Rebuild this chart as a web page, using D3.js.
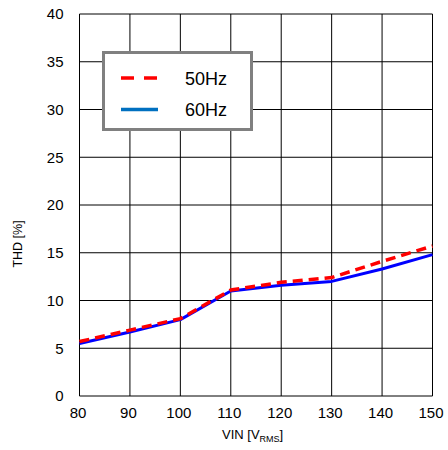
<!DOCTYPE html>
<html><head><meta charset="utf-8">
<script src="https://cdn.jsdelivr.net/npm/d3@7"></script>
<style>body{margin:0;background:#fff}svg{display:block;font-family:"Liberation Sans",Arial,sans-serif}</style>
</head><body><svg id="c" width="448" height="450"></svg>
<script>
const vin = [80, 90, 100, 110, 120, 130, 140, 150];
const thd50 = [5.7, 6.9, 8.1, 11.1, 11.9, 12.4, 14.1, 15.7];
const thd60 = [5.5, 6.7, 8.0, 11.0, 11.6, 12.0, 13.3, 14.8];
const xTicks = [80, 90, 100, 110, 120, 130, 140, 150];
const yTicks = [0, 5, 10, 15, 20, 25, 30, 35, 40];
const seriesNames = ["50Hz", "60Hz"];

const svg = d3.select("#c");
const x = d3.scaleLinear().domain([80, 150]).range([79.5, 432.5]);
const y = d3.scaleLinear().domain([0, 40]).range([396, 14]);

// grid
svg.append("g").selectAll("line").data(xTicks).join("line")
  .attr("x1", d => x(d)).attr("x2", d => x(d)).attr("y1", y(0)).attr("y2", y(40))
  .attr("stroke", "#000").attr("stroke-width", 1);
svg.append("g").selectAll("line").data(yTicks).join("line")
  .attr("x1", x(80)).attr("x2", x(150)).attr("y1", d => y(d)).attr("y2", d => y(d))
  .attr("stroke", "#000").attr("stroke-width", 1);

// axes with D3
const xa = svg.append("g").attr("transform", `translate(0,${y(0)})`)
  .call(d3.axisBottom(x).tickValues(xTicks).tickSize(0).tickPadding(11));
xa.select(".domain").remove();
xa.selectAll("text").attr("font-size", 15).attr("fill", "#000").attr("dx", -2)
  .attr("font-family", "Liberation Sans, Arial, sans-serif");
const ya = svg.append("g").attr("transform", `translate(${x(80)},0)`)
  .call(d3.axisLeft(y).tickValues(yTicks).tickSize(0).tickPadding(16));
ya.select(".domain").remove();
ya.selectAll("text").attr("font-size", 15).attr("fill", "#000")
  .attr("font-family", "Liberation Sans, Arial, sans-serif");

// lines
const line = d3.line().x((d, i) => x(vin[i])).y(d => y(d));
svg.append("path").datum(thd60).attr("d", line).attr("fill", "none")
  .attr("stroke", "#0000ff").attr("stroke-width", 3).attr("stroke-linejoin", "round");
svg.append("path").datum(thd50).attr("d", line).attr("fill", "none")
  .attr("stroke", "#ff0000").attr("stroke-width", 3.5).attr("stroke-dasharray", "10,6");

// axis titles
const xt = svg.append("text").attr("x", 222).attr("y", 439).attr("font-size", 13).attr("fill", "#000");
xt.append("tspan").text("VIN [V");
xt.append("tspan").attr("font-size", 9).attr("dy", 3).text("RMS");
xt.append("tspan").attr("dy", -3).text("]");
svg.append("text").attr("transform", "translate(22,244) rotate(-90)")
  .attr("text-anchor", "middle").attr("font-size", 12.5).attr("fill", "#000").text("THD [%]");

// legend
const lg = svg.append("g");
lg.append("rect").attr("x", 103.5).attr("y", 52.5).attr("width", 148).attr("height", 77)
  .attr("fill", "#fff").attr("stroke", "#808080").attr("stroke-width", 3);
const lgColors = ["#ff0000", "#0070c0"];
const lgDash = ["13,10", null];
seriesNames.forEach((n, i) => {
  const yy = 78 + i * 31.5;
  lg.append("line").attr("x1", 121).attr("x2", 158).attr("y1", yy).attr("y2", yy)
    .attr("stroke", lgColors[i]).attr("stroke-width", 3.5)
    .attr("stroke-dasharray", lgDash[i]);
  lg.append("text").attr("x", 185).attr("y", yy + 6.5).attr("font-size", 18)
    .attr("fill", "#000").text(n);
});
</script></body></html>
